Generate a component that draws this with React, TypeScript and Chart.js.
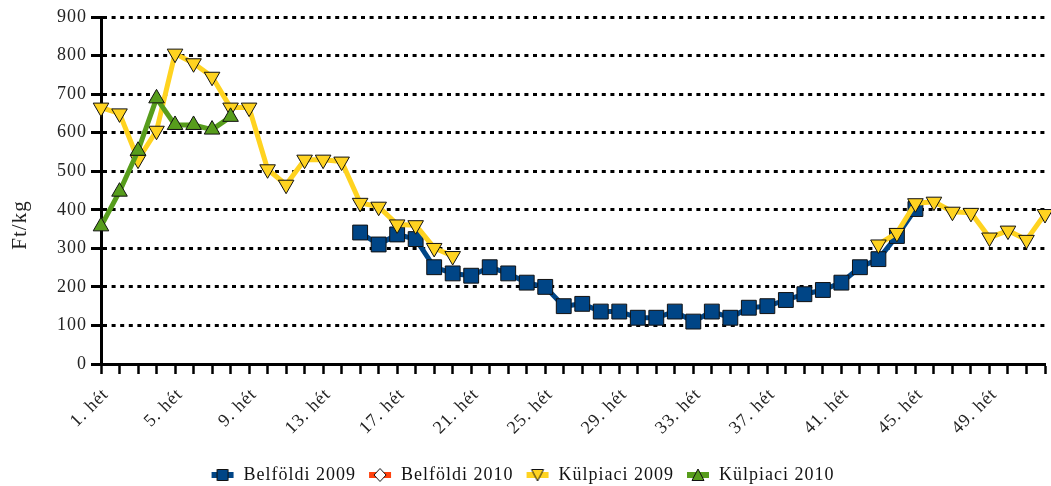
import React, { useEffect, useRef } from 'react';
import { Chart, registerables } from 'chart.js';

Chart.register(...registerables);

const weeks: string[] = [
  '1. hét', '2. hét', '3. hét', '4. hét', '5. hét', '6. hét', '7. hét', '8. hét', '9. hét', '10. hét',
  '11. hét', '12. hét', '13. hét', '14. hét', '15. hét', '16. hét', '17. hét', '18. hét', '19. hét', '20. hét',
  '21. hét', '22. hét', '23. hét', '24. hét', '25. hét', '26. hét', '27. hét', '28. hét', '29. hét', '30. hét',
  '31. hét', '32. hét', '33. hét', '34. hét', '35. hét', '36. hét', '37. hét', '38. hét', '39. hét', '40. hét',
  '41. hét', '42. hét', '43. hét', '44. hét', '45. hét', '46. hét', '47. hét', '48. hét', '49. hét', '50. hét',
  '51. hét', '52. hét',
];

const belfoldi2009: (number | null)[] = [
  null, null, null, null, null, null, null, null, null, null,
  null, null, null, null, 341, 310, 336, 324, 251, 235,
  229, 251, 235, 211, 200, 150, 156, 136, 136, 120,
  120, 136, 110, 136, 120, 146, 150, 166, 181, 192,
  211, 251, 272, 332, 402, null, null, null, null, null,
  null, null,
];

const belfoldi2010: (number | null)[] = [];

const kulpiaci2009: (number | null)[] = [
  665, 650, 530, 605, 805, 780, 745, 665, 665, 505,
  465, 530, 530, 525, 418, 408, 362, 360, 301, 280,
  null, null, null, null, null, null, null, null, null, null,
  null, null, null, null, null, null, null, null, null, null,
  null, null, 310, 340, 417, 421, 395, 392, 328, 346,
  322, 389,
];

const kulpiaci2010: (number | null)[] = [
  357, 447, 553, 689, 620, 620, 608, 641, null, null,
];

const seriesNames = ['Belföldi 2009', 'Belföldi 2010', 'Külpiaci 2009', 'Külpiaci 2010'];
const seriesColors = ['#004586', '#ff420e', '#ffd320', '#579d1c'];
const yTitle = 'Ft/kg';
const yMin = 0;
const yMax = 900;
const yStep = 100;
const labelEvery = 4;

const FONT = "'Liberation Serif', 'Times New Roman', serif";
const SPACING = '1px';

type MarkerKind = 'rect' | 'diamond' | 'down' | 'up';

function makeIcon(color: string, kind: MarkerKind): HTMLCanvasElement {
  const c = document.createElement('canvas');
  c.width = 24;
  c.height = 16;
  const g = c.getContext('2d')!;
  g.fillStyle = color;
  g.fillRect(1, 5, 22, 6);
  g.lineWidth = 1;
  g.strokeStyle = '#111';
  g.beginPath();
  if (kind === 'rect') {
    g.rect(6.5, 2.5, 11, 11);
    g.fillStyle = color;
  } else if (kind === 'diamond') {
    g.moveTo(12, 1.5);
    g.lineTo(18, 8);
    g.lineTo(12, 14.5);
    g.lineTo(6, 8);
    g.closePath();
    g.fillStyle = '#ffffff';
  } else if (kind === 'down') {
    g.moveTo(6, 2.5);
    g.lineTo(18, 2.5);
    g.lineTo(12, 14);
    g.closePath();
    g.fillStyle = color;
  } else {
    g.moveTo(12, 2);
    g.lineTo(18, 13.5);
    g.lineTo(6, 13.5);
    g.closePath();
    g.fillStyle = color;
  }
  g.fill();
  g.stroke();
  return c;
}

const spacingPlugin = {
  id: 'letterSpacing',
  beforeUpdate(chart: any) {
    chart.ctx.letterSpacing = SPACING;
  },
  beforeDraw(chart: any) {
    chart.ctx.letterSpacing = SPACING;
  },
};

const yTitlePlugin = {
  id: 'yTitleText',
  afterDraw(chart: any) {
    const ctx = chart.ctx;
    ctx.save();
    ctx.letterSpacing = SPACING;
    ctx.translate(20, 225);
    ctx.rotate(-Math.PI / 2);
    ctx.font = `21px ${FONT}`;
    ctx.fillStyle = '#222';
    ctx.textAlign = 'center';
    ctx.textBaseline = 'middle';
    ctx.fillText(yTitle, 0, 0);
    ctx.restore();
  },
};

export default function App() {
  const ref = useRef<HTMLCanvasElement | null>(null);

  useEffect(() => {
    document.body.style.margin = '0';
    const canvas = ref.current;
    if (!canvas) return;
    const icons = [
      makeIcon(seriesColors[0], 'rect'),
      makeIcon(seriesColors[1], 'diamond'),
      makeIcon(seriesColors[2], 'down'),
      makeIcon(seriesColors[3], 'up'),
    ];

    const common = {
      borderWidth: 5,
      pointBorderColor: '#111',
      pointBorderWidth: 1,
      borderJoinStyle: 'round' as const,
      borderCapStyle: 'round' as const,
      tension: 0,
      spanGaps: false,
    };

    const chart = new Chart(canvas, {
      type: 'line',
      data: {
        labels: weeks,
        datasets: [
          {
            ...common,
            label: seriesNames[0],
            data: belfoldi2009,
            borderColor: seriesColors[0],
            backgroundColor: seriesColors[0],
            pointBackgroundColor: seriesColors[0],
            pointStyle: 'rect',
            pointRadius: 10.5,
            pointHoverRadius: 10.5,
            order: 4,
          },
          {
            ...common,
            label: seriesNames[1],
            data: belfoldi2010,
            borderColor: seriesColors[1],
            backgroundColor: seriesColors[1],
            pointBackgroundColor: '#ffffff',
            pointStyle: 'rectRot',
            pointRadius: 8,
            order: 3,
          },
          {
            ...common,
            label: seriesNames[2],
            data: kulpiaci2009,
            borderColor: seriesColors[2],
            backgroundColor: seriesColors[2],
            pointBackgroundColor: seriesColors[2],
            pointStyle: 'triangle',
            pointRotation: 180,
            pointRadius: 9,
            pointHoverRadius: 9,
            order: 2,
          },
          {
            ...common,
            label: seriesNames[3],
            data: kulpiaci2010,
            borderColor: seriesColors[3],
            backgroundColor: seriesColors[3],
            pointBackgroundColor: seriesColors[3],
            pointStyle: 'triangle',
            pointRadius: 9,
            pointHoverRadius: 9,
            order: 1,
          },
        ],
      },
      options: {
        animation: false,
        responsive: true,
        maintainAspectRatio: false,
        events: [],
        layout: { autoPadding: false, padding: { top: 17, right: 6, left: 0, bottom: -8 } },
        plugins: {
          tooltip: { enabled: false },
          legend: {
            display: true,
            position: 'bottom',
            labels: {
              usePointStyle: true,
              pointStyleWidth: 24,
              boxHeight: 16,
              padding: 12,
              color: '#111',
              font: { family: FONT, size: 18 },
              generateLabels: () =>
                seriesNames.map((name, i) => ({
                  text: name,
                  pointStyle: icons[i] as any,
                  fillStyle: seriesColors[i],
                  strokeStyle: seriesColors[i],
                  lineWidth: 0,
                  hidden: false,
                  datasetIndex: i,
                  fontColor: '#111',
                })),
            },
          },
        },
        scales: {
          x: {
            type: 'category',
            offset: false,
            afterFit: (scale: any) => {
              scale.height = 90;
              scale.paddingRight = 0;
              scale.paddingLeft = 0;
            },
            grid: {
              display: true,
              drawOnChartArea: false,
              drawTicks: true,
              tickLength: 10,
              tickWidth: 2.5,
              tickColor: '#000',
              color: '#000',
            },
            border: { display: true, color: '#000', width: 3 },
            ticks: {
              autoSkip: false,
              maxRotation: 45,
              minRotation: 45,
              padding: 10,
              labelOffset: 5,
              color: '#222',
              font: { family: FONT, size: 18 },
              callback: (_v: any, i: number) => (i % labelEvery === 0 ? weeks[i] : ''),
            },
          },
          y: {
            min: yMin,
            max: yMax,
            afterFit: (scale: any) => {
              scale.width = 101;
            },
            title: { display: false },
            grid: {
              display: true,
              drawOnChartArea: true,
              drawTicks: true,
              color: '#000',
              lineWidth: 3,
              tickLength: 10,
              tickWidth: 3,
              tickColor: '#000',
              tickBorderDash: [],
            },
            border: { display: true, color: '#000', width: 3, dash: [4, 4.6] },
            ticks: {
              stepSize: yStep,
              padding: 4,
              color: '#222',
              font: { family: FONT, size: 18 },
            },
          },
        },
      },
      plugins: [spacingPlugin, yTitlePlugin],
    });

    return () => {
      chart.destroy();
    };
  }, []);

  return (
    <div style={{ position: 'relative', width: 1051, height: 486 }}>
      <canvas ref={ref} />
    </div>
  );
}
